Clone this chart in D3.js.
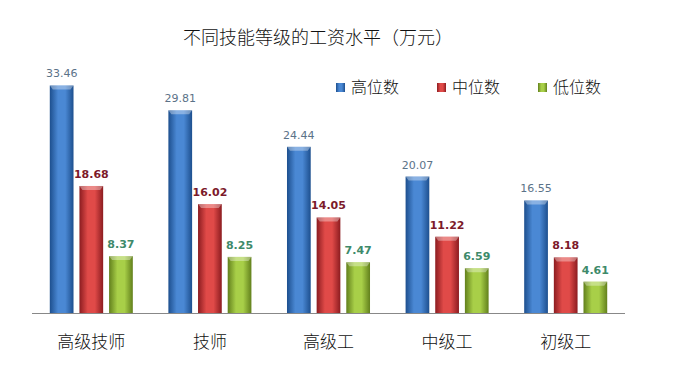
<!DOCTYPE html>
<html>
<head>
<meta charset="utf-8">
<script src="https://cdn.jsdelivr.net/npm/d3@7"></script>
<style>
  body { margin: 0; background: #fff; }
  svg { display: block; font-family: "Noto Sans CJK SC", sans-serif; }
  .val { font-family: "DejaVu Sans", sans-serif; font-size: 11px; }
</style>
</head>
<body>
<svg width="674" height="379"></svg>
<script>
var categories = ["高级技师", "技师", "高级工", "中级工", "初级工"];
var seriesNames = ["高位数", "中位数", "低位数"];
var highValues = [33.46, 29.81, 24.44, 20.07, 16.55];
var midValues = [18.68, 16.02, 14.05, 11.22, 8.18];
var lowValues = [8.37, 8.25, 7.47, 6.59, 4.61];

// colors per series: [dark edge, light centre, label]
var palette = [
  { id: "gBlue", edge: "#1d4f8e", mid: "#4a88d4", label: "#5b7288", weight: "normal" },
  { id: "gRed", edge: "#8c1c20", mid: "#e04a48", label: "#7c1a2a", weight: "bold" },
  { id: "gGreen", edge: "#62801c", mid: "#a8cf48", label: "#3e8a6a", weight: "bold" }
];

var svg = d3.select("svg"),
  width = +svg.attr("width"),
  height = +svg.attr("height"),
  margin = { top: 41, right: 49, bottom: 66, left: 32 };

var baseline = height - margin.bottom;

var table = categories.map(function (c, i) {
  return { name: c, values: [highValues[i], midValues[i], lowValues[i]] };
});

var defs = svg.append("defs");
palette.forEach(function (p) {
  var g = defs.append("linearGradient").attr("id", p.id)
    .attr("x1", "0").attr("x2", "1").attr("y1", "0").attr("y2", "0");
  g.append("stop").attr("offset", "0%").attr("stop-color", p.edge);
  g.append("stop").attr("offset", "35%").attr("stop-color", p.mid);
  g.append("stop").attr("offset", "65%").attr("stop-color", p.mid);
  g.append("stop").attr("offset", "100%").attr("stop-color", p.edge);
});

var x0 = d3.scaleBand()
  .domain(categories)
  .range([margin.left, width - margin.right])
  .paddingInner(0.3)
  .paddingOuter(0.15);

var x1 = d3.scaleBand()
  .domain(d3.range(seriesNames.length))
  .range([0, x0.bandwidth()])
  .paddingInner(0.2);

var y = d3.scaleLinear()
  .domain([0, 40])
  .range([baseline, margin.top]);

// title
svg.append("text")
  .attr("x", 318)
  .attr("y", 44)
  .attr("text-anchor", "middle")
  .attr("font-size", 18)
  .attr("font-weight", 300)
  .attr("fill", "#111")
  .text("不同技能等级的工资水平（万元）");

// bars
var groups = svg.append("g")
  .selectAll("g")
  .data(table)
  .enter().append("g")
  .attr("transform", function (d) { return "translate(" + x0(d.name) + ",0)"; });

var cells = groups.selectAll("g")
  .data(function (d) { return d.values.map(function (v, i) { return { v: v, i: i }; }); })
  .enter().append("g");

cells.append("rect")
  .attr("x", function (d) { return x1(d.i); })
  .attr("y", function (d) { return y(d.v); })
  .attr("width", x1.bandwidth())
  .attr("height", function (d) { return baseline - y(d.v); })
  .attr("fill", function (d) { return "url(#" + palette[d.i].id + ")"; });

// top bevel
cells.append("path")
  .attr("d", function (d) {
    var l = x1(d.i), r = l + x1.bandwidth(), t = y(d.v);
    return "M" + l + "," + t + "L" + r + "," + t + "L" + (r - 3) + "," + (t + 4) + "L" + (l + 3) + "," + (t + 4) + "Z";
  })
  .attr("fill", "#fff")
  .attr("opacity", 0.35);

cells.append("text")
  .attr("class", "val")
  .attr("x", function (d) { return x1(d.i) + x1.bandwidth() / 2; })
  .attr("y", function (d) { return y(d.v) - 8; })
  .attr("text-anchor", "middle")
  .attr("font-weight", function (d) { return palette[d.i].weight; })
  .attr("fill", function (d) { return palette[d.i].label; })
  .text(function (d) { return d.v.toFixed(2); });

// axis line
svg.append("line")
  .attr("x1", margin.left)
  .attr("x2", width - margin.right)
  .attr("y1", baseline + 0.5)
  .attr("y2", baseline + 0.5)
  .attr("stroke", "#888")
  .attr("stroke-width", 1);

// category labels
svg.append("g")
  .selectAll("text")
  .data(categories)
  .enter().append("text")
  .attr("x", function (d) { return x0(d) + x0.bandwidth() / 2; })
  .attr("y", 348)
  .attr("text-anchor", "middle")
  .attr("font-size", 17)
  .attr("font-weight", 300)
  .attr("fill", "#111")
  .text(function (d) { return d; });

// legend
var legend = svg.append("g")
  .selectAll("g")
  .data(seriesNames)
  .enter().append("g")
  .attr("transform", function (d, i) { return "translate(" + (336 + i * 101) + ",87)"; });

legend.append("rect")
  .attr("x", 0)
  .attr("y", -4)
  .attr("width", 9)
  .attr("height", 9)
  .attr("fill", function (d, i) { return "url(#" + palette[i].id + ")"; });

legend.append("text")
  .attr("x", 15)
  .attr("y", 6)
  .attr("font-size", 16)
  .attr("font-weight", 300)
  .attr("fill", "#111")
  .text(function (d) { return d; });
</script>
</body>
</html>
